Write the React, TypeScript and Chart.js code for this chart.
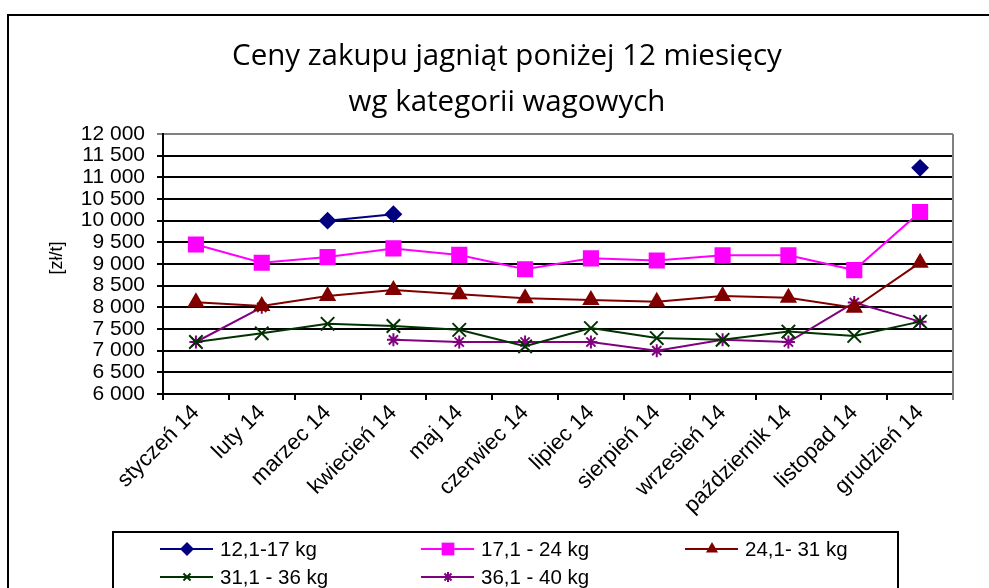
import React, { useEffect, useRef } from "react";
import { Chart, registerables } from "chart.js";

Chart.register(...registerables);

const categories = [
  "styczeń 14", "luty 14", "marzec 14", "kwiecień 14", "maj 14", "czerwiec 14",
  "lipiec 14", "sierpień 14", "wrzesień 14", "październik 14", "listopad 14", "grudzień 14",
];

const series1Label = "12,1-17 kg";
const series1 = [null, null, 10000, 10150, null, null, null, null, null, null, null, 11220];
const series2Label = "17,1 - 24 kg";
const series2 = [9450, 9030, 9160, 9360, 9210, 8880, 9130, 9080, 9200, 9200, 8860, 10200];
const series3Label = "24,1- 31 kg";
const series3 = [8120, 8030, 8260, 8400, 8300, 8210, 8170, 8130, 8260, 8220, 7990, 9030];
const series4Label = "31,1 - 36 kg";
const series4 = [7200, 7400, 7620, 7570, 7480, 7100, 7520, 7290, 7250, 7440, 7340, 7670];
const series5Label = "36,1 - 40 kg";
const series5 = [7200, 8000, null, 7250, 7200, 7200, 7200, 7000, 7250, 7200, 8110, 7670];

const titleLines = ["Ceny zakupu jagniąt poniżej 12 miesięcy", "wg kategorii wagowych"];
const yAxisTitle = "[zł/t]";
const yMin = 6000;
const yMax = 12000;
const yStep = 500;

const FONT = "'Liberation Sans', Arial, sans-serif";

function fmt(v: number) {
  return String(v).replace(/\B(?=(\d{3})+(?!\d))/g, " ");
}

function drawPoint(c: CanvasRenderingContext2D, style: string, r: number, x: number, y: number) {
  c.save();
  c.lineWidth = 2;
  c.beginPath();
  if (style === "rectRot") {
    c.moveTo(x, y - r); c.lineTo(x + r, y); c.lineTo(x, y + r); c.lineTo(x - r, y); c.closePath();
    c.fill();
  } else if (style === "rect") {
    const s = r * Math.SQRT1_2;
    c.rect(x - s, y - s, 2 * s, 2 * s);
    c.fill();
  } else if (style === "triangle") {
    c.moveTo(x, y - r);
    c.lineTo(x + r * 0.866, y + r / 2);
    c.lineTo(x - r * 0.866, y + r / 2);
    c.closePath();
    c.fill();
  } else if (style === "crossRot") {
    const o = r * Math.SQRT1_2;
    c.moveTo(x - o, y - o); c.lineTo(x + o, y + o);
    c.moveTo(x + o, y - o); c.lineTo(x - o, y + o);
    c.stroke();
  } else {
    const o = r * Math.SQRT1_2;
    c.moveTo(x - o, y - o); c.lineTo(x + o, y + o);
    c.moveTo(x + o, y - o); c.lineTo(x - o, y + o);
    c.moveTo(x, y - r); c.lineTo(x, y + r);
    c.stroke();
  }
  c.restore();
}

export default function App() {
  const ref = useRef<HTMLCanvasElement | null>(null);

  useEffect(() => {
    document.body.style.margin = "0";
    document.body.style.overflow = "hidden";
    const canvas = ref.current!;

    const styles = [
      { label: series1Label, data: series1, color: "#000080", point: "rectRot", radius: 7.5 },
      { label: series2Label, data: series2, color: "#FF00FF", point: "rect", radius: 10 },
      { label: series3Label, data: series3, color: "#800000", point: "triangle", radius: 8 },
      { label: series4Label, data: series4, color: "#003300", point: "crossRot", radius: 9.5 },
      { label: series5Label, data: series5, color: "#800080", point: "star", radius: 6.5 },
    ];

    const decor = {
      id: "decor",
      beforeDraw(chart: any) {
        const c = chart.ctx;
        c.save();
        c.fillStyle = "#fff";
        c.fillRect(0, 0, chart.width, chart.height);
        c.restore();
      },
      afterDraw(chart: any) {
        const c = chart.ctx;
        const area = chart.chartArea;
        c.save();
        // outer frame
        c.strokeStyle = "#000";
        c.lineWidth = 2;
        c.beginPath();
        c.moveTo(8, 700);
        c.lineTo(8, 15);
        c.lineTo(1100, 15);
        c.stroke();
        // right border of plot
        c.strokeStyle = "#808080";
        c.beginPath();
        c.moveTo(area.right, area.top);
        c.lineTo(area.right, area.bottom + 6);
        c.stroke();
        // title
        c.fillStyle = "#000";
        c.textAlign = "center";
        c.textBaseline = "middle";
        c.font = "29.5px 'Open Sans', sans-serif";
        c.fillText(titleLines[0], 507, 57);
        c.fillText(titleLines[1], 507, 103);
        // y title
        c.save();
        c.translate(57, 258);
        c.rotate(-Math.PI / 2);
        c.font = "18px " + FONT;
        c.fillText(yAxisTitle, 0, 0);
        c.restore();
        // legend box
        c.strokeStyle = "#000";
        c.lineWidth = 2;
        c.strokeRect(113, 532, 785, 100);
        const cols = [160, 421, 685];
        const rows = [549, 577];
        c.font = "20.5px " + FONT;
        c.textAlign = "left";
        chart.data.datasets.forEach((ds: any, i: number) => {
          const x = cols[i % 3];
          const y = rows[Math.floor(i / 3)];
          c.strokeStyle = ds.borderColor;
          c.lineWidth = 2;
          c.beginPath();
          c.moveTo(x, y);
          c.lineTo(x + 53, y);
          c.stroke();
          c.fillStyle = ds.pointBackgroundColor;
          c.strokeStyle = ds.borderColor;
          const r = ds.pointStyle === "crossRot" || ds.pointStyle === "star" ? 5 : ds.pointStyle === "rect" ? 9 : 7;
          drawPoint(c, ds.pointStyle, r, x + 27, y);
          c.fillStyle = "#000";
          c.fillText(ds.label, x + 60, y + 1);
        });
        c.restore();
      },
    };

    const chart = new Chart(canvas, {
      type: "line",
      data: {
        labels: categories,
        datasets: styles.map((s) => ({
          label: s.label,
          data: s.data as any,
          borderColor: s.color,
          backgroundColor: s.color,
          pointBackgroundColor: s.color,
          pointBorderColor: s.color,
          pointStyle: s.point as any,
          pointRadius: s.radius,
          pointBorderWidth: 2,
          borderWidth: 2,
          tension: 0,
          spanGaps: false,
          fill: false,
        })),
      },
      options: {
        responsive: false,
        animation: false,
        devicePixelRatio: 1,
        layout: { padding: { top: 134, right: 36, left: 0, bottom: 0 } },
        plugins: {
          legend: { display: false },
          title: { display: false },
          tooltip: { enabled: false },
        },
        scales: {
          x: {
            offset: true,
            afterFit(scale: any) {
              scale.height = 194;
            },
            grid: {
              drawOnChartArea: false,
              drawTicks: true,
              tickLength: 6,
              color: "#000",
              lineWidth: 2,
              offset: true,
            },
            border: { display: true, color: "#000", width: 2 },
            ticks: {
              minRotation: 45,
              maxRotation: 45,
              autoSkip: false,
              padding: 0,
              labelOffset: 0,
              color: "#000",
              font: { family: FONT, size: 22 },
            },
          },
          y: {
            min: yMin,
            max: yMax,
            afterFit(scale: any) {
              scale.width = 163;
            },
            grid: {
              color: (ctx: any) => (ctx.tick && ctx.tick.value === yMax ? "#808080" : "#000"),
              lineWidth: 2,
              tickLength: 6,
              drawTicks: true,
            },
            border: { display: true, color: "#000", width: 2 },
            ticks: {
              stepSize: yStep,
              autoSkip: false,
              padding: 12,
              color: "#000",
              font: { family: FONT, size: 21 },
              callback: (v: any) => fmt(Number(v)),
            },
          },
        },
      },
      plugins: [decor],
    });

    return () => chart.destroy();
  }, []);

  return (
    <div style={{ width: 989, height: 588 }}>
      <canvas ref={ref} width={989} height={588} style={{ display: "block" }} />
    </div>
  );
}
